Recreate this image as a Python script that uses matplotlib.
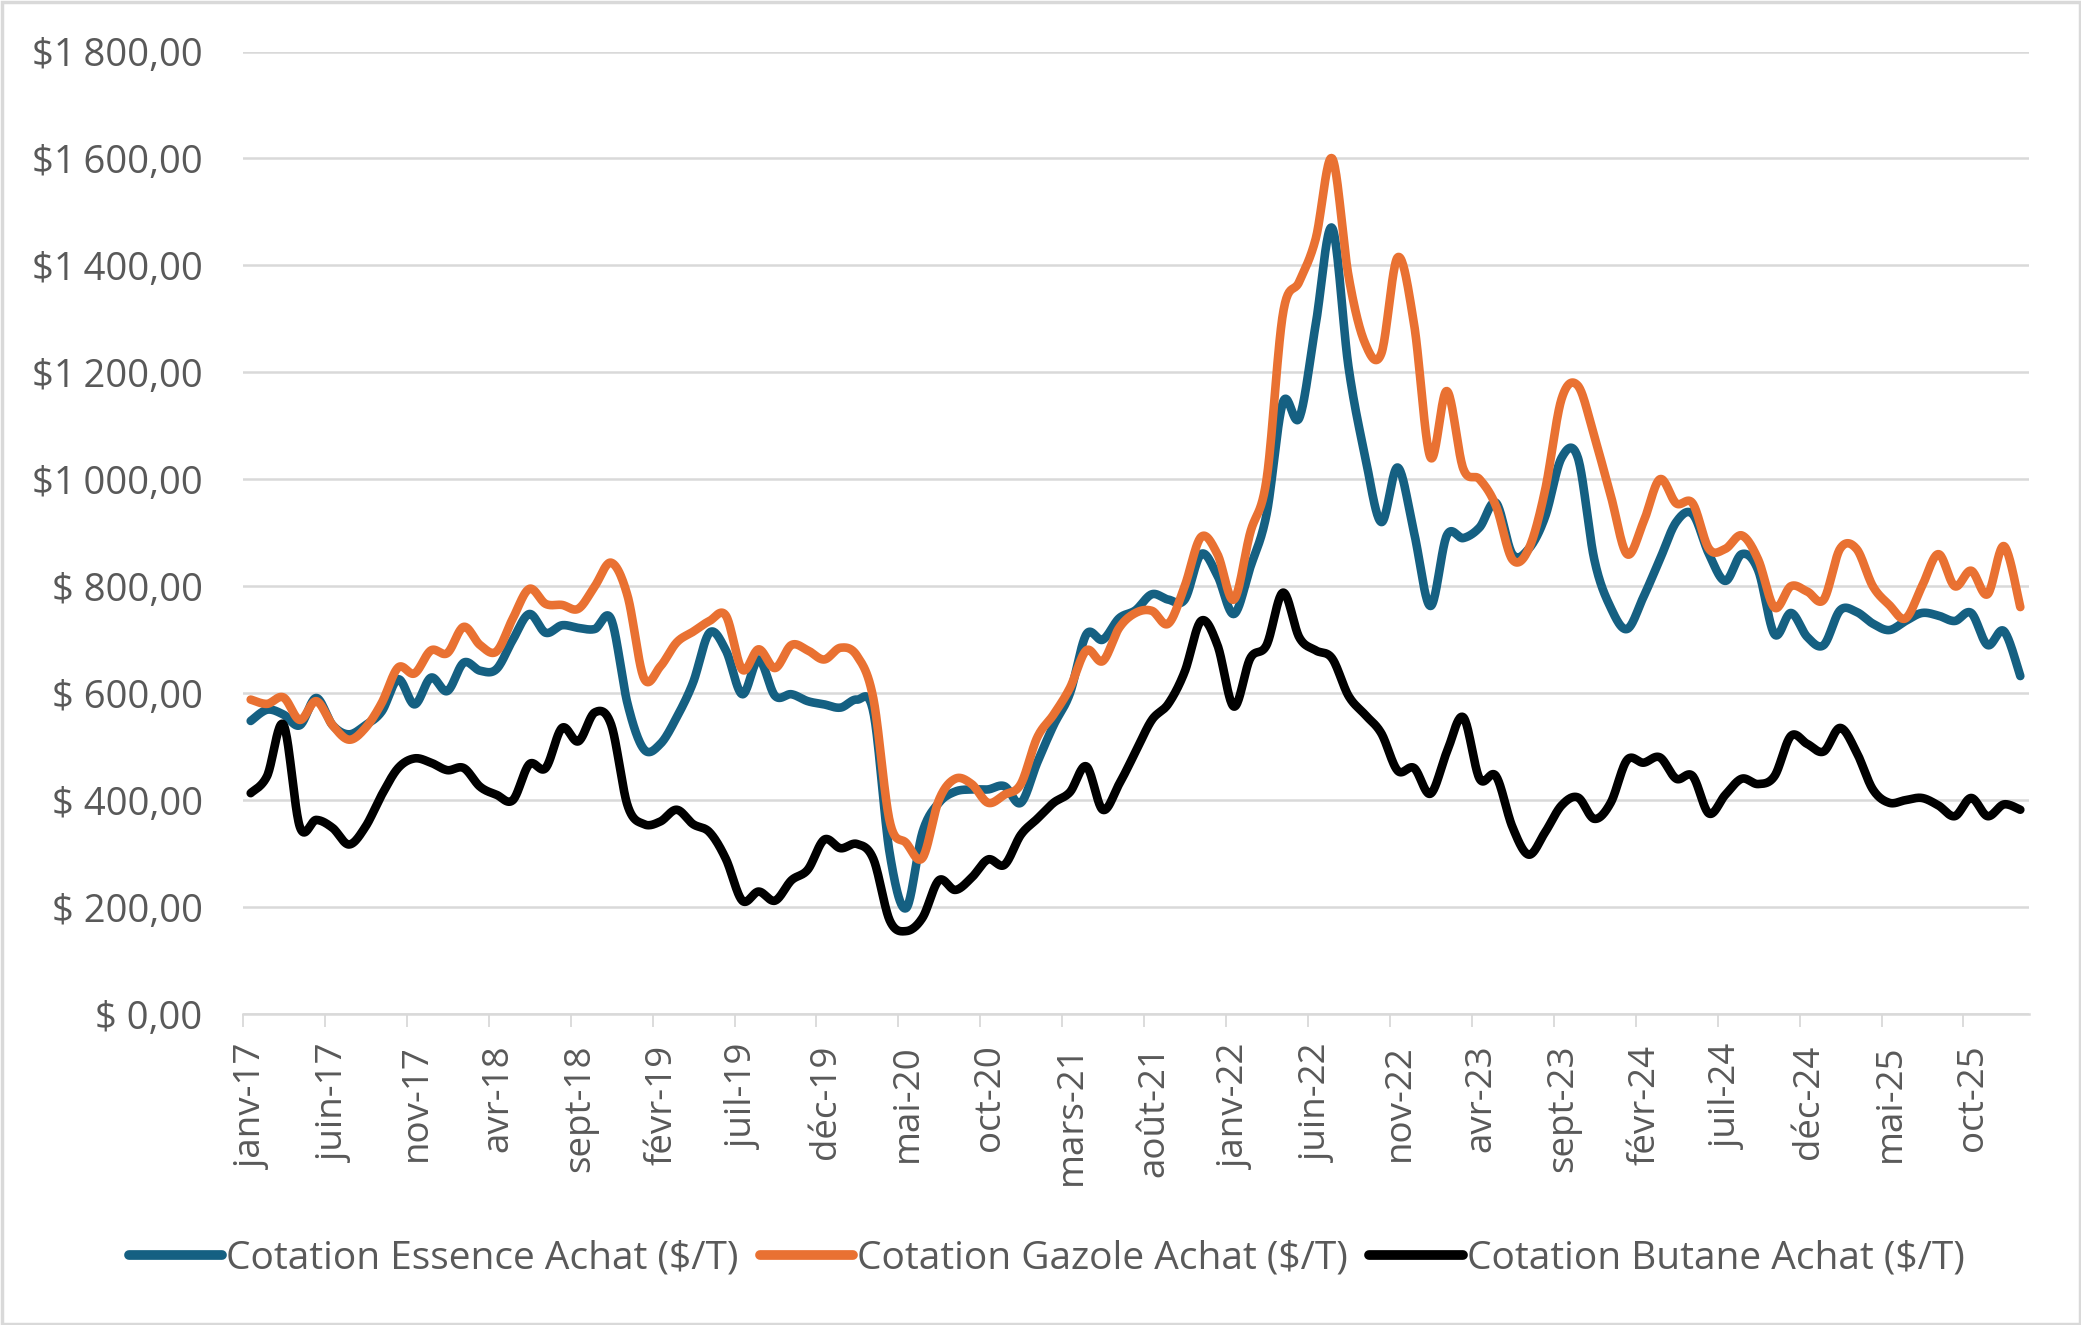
import numpy as np
import matplotlib
matplotlib.use("Agg")
import matplotlib.pyplot as plt
from matplotlib.patches import Rectangle

plt.rcParams['font.family'] = ['Open Sans', 'DejaVu Sans']

# ---- data (monthly, janv-17 .. janv-26) ----
tick_labels = ["janv-17", "juin-17", "nov-17", "avr-18", "sept-18", "févr-19",
               "juil-19", "déc-19", "mai-20", "oct-20", "mars-21", "août-21",
               "janv-22", "juin-22", "nov-22", "avr-23", "sept-23", "févr-24",
               "juil-24", "déc-24", "mai-25", "oct-25"]

essence = [548, 569, 560, 540, 591, 540, 523, 540, 566, 626,
           579, 629, 604, 657, 642, 645, 700, 748, 713, 727,
           722, 720, 738, 580, 495, 505, 555, 620, 713, 680,
           598, 663, 595, 598, 585, 579, 573, 588, 565, 300,
           198, 340, 395, 416, 420, 420, 426, 395, 470, 540,
           600, 710, 700, 740, 755, 785, 775, 775, 860, 820,
           748, 835, 935, 1144, 1115, 1290, 1470, 1210, 1045, 920,
           1022, 900, 763, 895, 890, 910, 956, 860, 870, 930,
           1040, 1040, 850, 760, 720, 780, 850, 920, 935, 860,
           810, 860, 830, 710, 750, 705, 690, 755, 752, 730,
           718, 735, 750, 745, 735, 750, 690, 716, 632]

gazole = [588, 580, 592, 550, 585, 540, 513, 535, 582, 648,
          637, 680, 675, 724, 690, 678, 740, 795, 767, 765,
          758, 800, 844, 782, 628, 650, 695, 715, 735, 745,
          644, 682, 647, 690, 680, 663, 685, 670, 590, 360,
          320, 292, 400, 440, 430, 395, 410, 430, 517, 560,
          610, 680, 660, 722, 750, 754, 730, 800, 892, 860,
          775, 900, 1000, 1310, 1370, 1450, 1600, 1380, 1255, 1235,
          1415, 1290, 1041, 1165, 1020, 1000, 950, 850, 870, 980,
          1150, 1175, 1080, 970, 860, 920, 1000, 955, 955, 870,
          870, 895, 850, 760, 800, 790, 775, 870, 870, 800,
          765, 740, 800, 860, 800, 829, 785, 875, 761]

butane = [413, 445, 541, 350, 363, 348, 317, 350, 410, 460,
          478, 470, 456, 460, 425, 410, 400, 467, 460, 535,
          510, 564, 541, 390, 355, 360, 382, 355, 340, 290,
          212, 229, 212, 250, 270, 326, 310, 318, 290, 175,
          155, 180, 250, 232, 255, 289, 279, 335, 365, 395,
          415, 463, 382, 430, 490, 550, 580, 640, 735, 690,
          575, 665, 690, 788, 704, 680, 665, 595, 560, 525,
          455, 460, 412, 490, 555, 440, 445, 350, 298, 340,
          390, 405, 365, 395, 475, 470, 480, 440, 445, 375,
          410, 440, 430, 445, 520, 505, 491, 535, 490, 420,
          395, 400, 404, 390, 370, 404, 370, 392, 382]

series_names = ["Cotation Essence Achat ($/T)", "Cotation Gazole Achat ($/T)",
                "Cotation Butane Achat ($/T)"]
colors = ["#156082", "#E97132", "#000000"]


def smooth(xs, ys, n=24):
    P = np.column_stack([xs, ys]).astype(float)
    out = []
    m = len(P)
    t = np.linspace(0, 1, n, endpoint=False)[:, None]
    for i in range(m - 1):
        p0 = P[i - 1] if i > 0 else P[i]
        p3 = P[i + 2] if i + 2 < m else P[i + 1]
        b0, b3 = P[i], P[i + 1]
        b1 = b0 + (b3 - p0) / 6.0
        b2 = b3 - (p3 - b0) / 6.0
        seg = ((1 - t) ** 3) * b0 + 3 * ((1 - t) ** 2) * t * b1 + 3 * (1 - t) * t ** 2 * b2 + t ** 3 * b3
        out.append(seg)
    out.append(P[-1:])
    arr = np.vstack(out)
    return arr[:, 0], arr[:, 1]


W, H = 2081, 1325
fig = plt.figure(figsize=(W / 100, H / 100), dpi=100)
ax = fig.add_axes([243 / W, (H - 1014) / H, (2029 - 243) / W, (1014 - 51.5) / H])

n = len(essence)
xs = np.arange(n) + 0.47
for vals, name, c in zip([essence, gazole, butane], series_names, colors):
    sx, sy = smooth(xs, vals)
    ax.plot(sx, sy, color=c, lw=6.2, solid_capstyle='round', solid_joinstyle='round',
            label=name, zorder=3)

ax.set_xlim(0, 109)
ax.set_ylim(0, 1800)

yt = np.arange(0, 1801, 200)
ax.set_yticks(yt)


def fmt(v):
    v = int(v)
    if v >= 1000:
        return "$1\u202f%03d,00" % (v - 1000)
    return "$ %d,00" % v


ax.set_yticklabels([fmt(v) for v in yt])

major = np.arange(0, 106, 5)
ax.set_xticks(major)
ax.set_xticklabels([])
ax.set_xticks(major + 0.6, minor=True)
ax.set_xticklabels(tick_labels, minor=True, rotation=90, ha='center', va='top')

ax.grid(axis='y', color='#D9D9D9', lw=1.8, zorder=0)
ax.set_axisbelow(True)
for s in ['top', 'right', 'left']:
    ax.spines[s].set_visible(False)
ax.spines['bottom'].set_color('#D9D9D9')
ax.spines['bottom'].set_linewidth(1.8)
ax.tick_params(axis='y', length=0, pad=29, labelsize=27.5, labelcolor='#595959')
ax.tick_params(axis='x', which='major', length=9, width=1.3, color='#D9D9D9')
ax.tick_params(axis='x', which='minor', length=0, pad=22,
               labelsize=26.5, labelcolor='#595959')

leg = fig.legend(loc='center', bbox_to_anchor=(0.503, 1 - 1259 / H), ncol=3,
                 frameon=False, fontsize=28, handlelength=2.4, handletextpad=0.1,
                 columnspacing=0.55)
for t in leg.get_texts():
    t.set_color('#595959')
for h in leg.get_lines():
    h.set_linewidth(7)
    h.set_solid_capstyle('round')

fig.patches.append(Rectangle((1.5 / W, 1.5 / H), 1 - 3 / W, 1 - 3 / H, transform=fig.transFigure,
                             fill=False, edgecolor='#D9D9D9', lw=2.5))

fig.savefig("out.png", dpi=100)
